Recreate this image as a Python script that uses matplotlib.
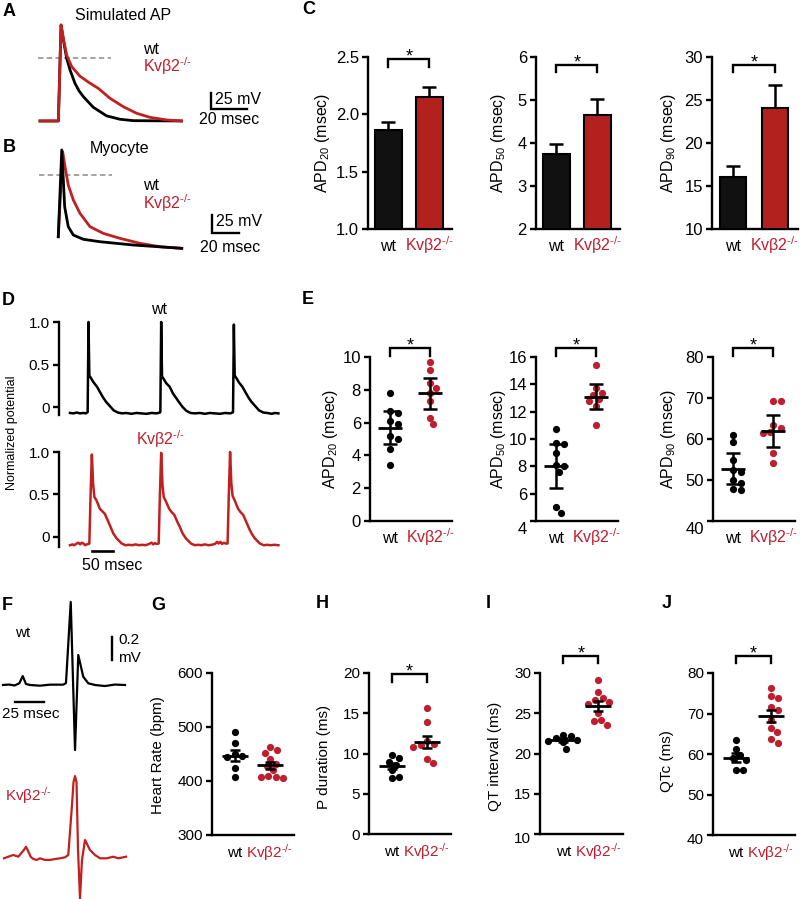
import numpy as np
import matplotlib
matplotlib.use('Agg')
import matplotlib.pyplot as plt

plt.rcParams['font.family'] = ['Liberation Sans', 'DejaVu Sans']
plt.rcParams['mathtext.fontset'] = 'custom'
plt.rcParams['mathtext.rm'] = 'Liberation Sans'
plt.rcParams['mathtext.it'] = 'Liberation Sans:italic'
plt.rcParams['mathtext.bf'] = 'Liberation Sans:bold'

# ---------------- data ----------------
KV = 'Kvβ2$^{\\text{-/-}}$'
groups = ['wt', KV]

# A: simulated AP (ms, mV)
A_wt_t = [0, 10.2, 11.7, 13.0, 14.8, 16.7, 19.4, 21.7, 24.1, 29.6, 37.0, 44.4, 51.9, 78.7]
A_wt_v = [-80, -80, 70, 46.6, 18, -0.3, -21, -33, -42, -58.6, -72, -77.3, -79.5, -80]
A_kv_t = [0, 10.2, 11.7, 13.0, 14.8, 17.6, 22.2, 27.8, 32.4, 38.9, 46.3, 53.7, 61.1, 70.4, 78.7]
A_kv_v = [-80, -80, 70, 49, 23, 5, -10, -21, -29, -44.6, -57.7, -68, -74.3, -78.4, -80]
A_dash_v = 18.4

# B: myocyte AP (ms, mV)
B_wt_t = [0.2, 2.8, 4.0, 5.0, 7.7, 11.5, 19, 31.5, 56.5, 92.8]
B_wt_v = [-64.6, 53.7, 12.8, -23.7, -50.9, -62.3, -68.1, -71.4, -75.9, -80.4]
B_kv_t = [0.2, 3.5, 5.25, 7.7, 11.5, 16.5, 24, 34, 46.5, 61.5, 76.5, 92.8]
B_kv_v = [-64.6, 51.4, 30.9, 5.9, -14.5, -32.7, -50.9, -60, -66.8, -73.6, -78.2, -80.4]
B_dash_v = 19.6

# C: APD bars
C1_mean = [1.86, 2.15]; C1_err = [0.075, 0.085]
C2_mean = [3.75, 4.66]; C2_err = [0.23, 0.36]
C3_mean = [16.0, 24.05]; C3_err = [1.35, 2.7]

# D: optical traces (ms, normalized)
D_wt_t = [0, 8, 16, 24, 32, 38, 42, 44, 46, 50, 56, 64, 72, 79, 86, 95, 104, 114, 124, 134, 146, 158,
          170, 182, 194, 206, 214, 215, 217, 219, 223, 229, 237, 245, 252, 259, 268, 277, 287, 297,
          309, 321, 333, 345, 357, 369, 381, 387, 388, 390, 392, 396, 402, 410, 418, 425, 432, 441,
          450, 460, 470, 480, 488, 496]
D_wt_v = [-0.07, -0.075, -0.065, -0.075, -0.07, -0.075, -0.06, 1.0, 0.37, 0.34, 0.29, 0.24, 0.17, 0.11,
          0.06, 0.01, -0.04, -0.065, -0.075, -0.07, -0.08, -0.07, -0.075, -0.08, -0.07, -0.075, -0.065,
          -0.06, 1.0, 0.36, 0.33, 0.28, 0.24, 0.16, 0.11, 0.06, 0.0, -0.045, -0.07, -0.075, -0.07,
          -0.08, -0.07, -0.075, -0.08, -0.07, -0.075, -0.065, -0.06, 0.97, 0.37, 0.34, 0.29, 0.24,
          0.17, 0.11, 0.06, 0.01, -0.04, -0.065, -0.07, -0.08, -0.07, -0.075]
D_kv_t = [0, 6, 10, 16, 20, 24, 28, 32, 36, 40, 44, 46, 49, 52, 55, 58, 63, 71, 77, 83, 91, 97, 103,
          111, 123, 132, 140, 148, 156, 164, 172, 180, 188, 194, 198, 202, 206, 211, 214, 217, 220,
          223, 228, 236, 242, 248, 256, 262, 268, 276, 288, 297, 305, 313, 321, 329, 337, 345, 350,
          354, 358, 362, 366, 370, 375, 378, 381, 384, 387, 392, 400, 406, 412, 420, 426, 432, 440,
          452, 461, 470, 478, 486, 496]
D_kv_v = [-0.1, -0.09, -0.1, -0.08, -0.07, -0.09, -0.07, -0.08, -0.1, -0.09, -0.085, -0.08, 0.5, 0.97,
          0.62, 0.47, 0.43, 0.33, 0.30, 0.27, 0.18, 0.11, 0.04, -0.02, -0.08, -0.1, -0.095, -0.1,
          -0.09, -0.1, -0.095, -0.1, -0.085, -0.07, -0.09, -0.075, -0.085, -0.08, 0.5, 0.99, 0.62,
          0.47, 0.42, 0.33, 0.29, 0.26, 0.17, 0.11, 0.04, -0.02, -0.08, -0.1, -0.095, -0.1, -0.09,
          -0.1, -0.095, -0.085, -0.06, -0.08, -0.06, -0.085, -0.07, -0.08, -0.08, 0.5, 1.0, 0.63,
          0.48, 0.43, 0.33, 0.29, 0.26, 0.17, 0.10, 0.04, -0.02, -0.08, -0.1, -0.095, -0.1, -0.095, -0.1]

# E: APD scatter
E1_wt = [7.8, 6.7, 6.6, 6.1, 5.9, 5.2, 5.0, 4.4, 3.4]
E1_kv = [9.7, 9.2, 8.4, 8.1, 7.8, 7.3, 6.3, 5.9]
E1_mean = [5.7, 7.8]; E1_err = [1.0, 0.95]
E2_wt = [10.7, 9.7, 9.6, 9.0, 8.1, 8.0, 7.6, 5.0, 4.6]
E2_kv = [15.4, 13.7, 13.4, 13.2, 12.9, 12.8, 12.4, 11.0]
E2_mean = [8.0, 13.1]; E2_err = [1.6, 0.92]
E3_wt = [61.0, 59.2, 55.0, 52.5, 52.0, 50.0, 49.3, 47.8, 47.5]
E3_kv = [69.3, 69.3, 63.4, 62.8, 61.8, 61.5, 56.5, 54.2]
E3_mean = [52.8, 61.9]; E3_err = [3.8, 3.9]

# F: ECG traces (ms, mV)
F_wt_t = [0, 5, 10, 14.1, 17.0, 19.8, 23.3, 31.9, 40.5, 52.0, 54.3, 58.4, 62.1, 64.9, 69.2, 73.5, 79.3,
          87.9, 96.5, 105.2]
F_wt_v = [0, 0.004, -0.004, 0.015, 0.078, 0.009, 0, -0.006, 0.003, 0.003, 0.017, 0.722, -0.566, 0.261,
          0.072, 0.015, 0, -0.009, 0.004, 0]
F_kv_t = [0, 3.7, 8.0, 12.3, 15.2, 17.2, 19.0, 21.0, 23.0, 25.3, 28.2, 31.0, 35.3, 39.7, 44.0, 48.3,
          52.6, 55.4, 58.6, 59.9, 61.2, 62.5, 63.8, 65.5, 67.2, 69.8, 74.1, 78.4, 82.8, 88.5, 94.2,
          98.5, 105.2]
F_kv_v = [-0.003, 0.011, 0.026, 0.011, 0.046, 0.07, 0.098, 0.055, 0.011, -0.009, -0.017, -0.003,
          -0.017, -0.017, -0.009, -0.003, 0.006, 0.026, 0.46, 0.66, 0.713, 0.66, 0.07, -0.351, -0.02,
          0.157, 0.07, 0.026, -0.003, -0.003, 0.011, -0.003, 0.011]

# G-J: ECG parameters
G_wt = [490, 470, 450, 447, 445, 425, 408]
G_kv = [463, 458, 452, 440, 432, 428, 420, 410, 408, 407, 405]
G_mean = [447, 429]; G_err = [10, 6]
H_wt = [9.8, 9.5, 9.0, 8.6, 7.9, 7.0, 7.1]
H_kv = [15.6, 13.9, 11.5, 11.2, 11.0, 10.8, 9.3, 8.8]
H_mean = [8.45, 11.4]; H_err = [0.41, 0.72]
I_wt = [22.3, 22.2, 21.9, 21.7, 21.6, 21.4, 20.6]
I_kv = [29.1, 27.6, 26.9, 26.6, 26.4, 26.2, 25.0, 24.2, 24.0, 23.6]
I_mean = [21.7, 25.95]; I_err = [0.22, 0.62]
J_wt = [63.4, 61.2, 59.8, 59.0, 58.5, 56.0, 56.0]
J_kv = [76.2, 74.4, 73.8, 71.5, 70.8, 68.5, 66.5, 65.5, 63.6, 62.8]
J_mean = [59.1, 69.4]; J_err = [1.05, 1.5]

# ---------------- style ----------------
W, H = 800, 899
RED = '#BE1E2D'
BAR_RED = '#B3211E'
TRACE_RED = '#C0201E'
BLACK = '#111111'

fig = plt.figure(figsize=(W / 100, H / 100), dpi=100)


def add_px_axes(x0, y0, x1, y1):
    return fig.add_axes([x0 / W, 1 - y1 / H, (x1 - x0) / W, (y1 - y0) / H])


def ftext(x, y, s, **kw):
    return fig.text(x / W, 1 - y / H, s, **kw)


def py2d(y_px, box, ylim):
    return ylim[0] + (box[3] - y_px) / (box[3] - box[1]) * (ylim[1] - ylim[0])


def style_axes(ax, fs):
    for s in ['top', 'right']:
        ax.spines[s].set_visible(False)
    for s in ['left', 'bottom']:
        ax.spines[s].set_linewidth(1.7)
    ax.tick_params(axis='y', direction='out', length=4.5, width=1.7, pad=2, labelsize=fs)
    ax.tick_params(axis='x', length=0, pad=16, labelsize=fs)


def set_group_ticks(ax):
    ax.set_xticks([0, 1])
    ax.set_xticklabels(groups)
    for lbl in ax.get_xticklabels():
        lbl.set_verticalalignment('baseline')
    ax.get_xticklabels()[1].set_color(RED)


def add_bracket(ax, box, ylim, y_top_px, y_leg_px, star_px, star_fs=13):
    yt = py2d(y_top_px, box, ylim)
    yl = py2d(y_leg_px, box, ylim)
    ax.plot([0, 0, 1, 1], [yl, yt, yt, yl], color='black', lw=1.7, clip_on=False,
            solid_joinstyle='miter', zorder=5)
    em = star_fs * 100 / 72
    ax.text(0.5, py2d(star_px + 0.58 * em, box, ylim), '*', ha='center', va='baseline',
            fontsize=star_fs, clip_on=False)


def shifted_bottom_label(ax, ylim, text, dy_px, fs):
    labels = [t.get_text() for t in ax.get_yticklabels()]
    labels[0] = ''
    ax.set_yticklabels(labels)
    ax.annotate(text, xy=(0, ylim[0]), xycoords=('axes fraction', 'data'),
                xytext=(-6.5, -dy_px * 0.72), textcoords='offset points',
                ha='right', va='center', fontsize=fs)


def swarm_offsets(vals, px_per_y, px_per_x, d=7.0, step=1.5):
    placed = []
    offs = []
    for v in vals:
        y = v * px_per_y
        chosen = 0.0
        for k in range(0, 80):
            found = None
            for c in ([0.0] if k == 0 else [k * step, -k * step]):
                if all((c - qx) ** 2 + (y - qy) ** 2 >= d * d for qx, qy in placed):
                    found = c
                    break
            if found is not None:
                chosen = found
                break
        placed.append((chosen, y))
        offs.append(chosen / px_per_x)
    return np.array(offs)


# ---------------- panel letters ----------------
for lab, x, y in [('A', 9, 12), ('B', 9, 147), ('C', 309, 9), ('D', 8, 301), ('E', 308, 300),
                  ('F', 7, 605), ('G', 158, 605), ('H', 322, 604), ('I', 488, 604), ('J', 667, 604)]:
    ftext(x, y, lab, fontsize=13, fontweight='bold', ha='center', va='center')

# ---------------- A ----------------
axA = add_px_axes(30, 20, 270, 130)
axA.set_xlim(-5.56, 127.8)
axA.set_ylim(-94.1, 77.8)
axA.axis('off')
axA.plot([-1.1, 39.4], [A_dash_v, A_dash_v], color='#8a8a8a', lw=1.1, ls=(0, (3.5, 2.2)))
axA.plot(A_wt_t, A_wt_v, color='black', lw=2.0, solid_joinstyle='round')
axA.plot(A_kv_t, A_kv_v, color=TRACE_RED, lw=2.0, solid_joinstyle='round')
axA.plot([95, 95, 115], [-36.25, -61.25, -61.25], color='black', lw=1.7, solid_joinstyle='miter')
ftext(123, 15, 'Simulated AP', fontsize=11.5, ha='center', va='center')
ftext(143, 49, 'wt', fontsize=11.5, ha='left', va='center')
ftext(143, 66, KV, fontsize=11.5, ha='left', va='center', color=RED)
ftext(215, 100, '25 mV', fontsize=11.5, ha='left', va='center')
ftext(229, 120, '20 msec', fontsize=11.5, ha='center', va='center')

# ---------------- B ----------------
axB = add_px_axes(30, 140, 270, 255)
axB.set_xlim(-21, 159)
axB.set_ylim(-89.5, 67.3)
axB.axis('off')
axB.plot([-14.25, 40.5], [B_dash_v, B_dash_v], color='#8a8a8a', lw=1.1, ls=(0, (3.5, 2.2)))
axB.plot(B_kv_t, B_kv_v, color=TRACE_RED, lw=2.0, solid_joinstyle='round')
axB.plot(B_wt_t, B_wt_v, color='black', lw=2.0, solid_joinstyle='round')
axB.plot([115.5, 115.5, 135.5], [-34.5, -59.5, -59.5], color='black', lw=1.7, solid_joinstyle='miter')
ftext(120, 148, 'Myocyte', fontsize=11.5, ha='center', va='center')
ftext(143, 186, 'wt', fontsize=11.5, ha='left', va='center')
ftext(143, 203, KV, fontsize=11.5, ha='left', va='center', color=RED)
ftext(216, 221, '25 mV', fontsize=11.5, ha='left', va='center')
ftext(230, 247, '20 msec', fontsize=11.5, ha='center', va='center')

# ---------------- C ----------------
def bar_panel(box, ylim, yticks, yticklabels, means, errs, ylabel, ylab_x, br):
    ax = add_px_axes(*box)
    ax.set_xlim(-0.5, 1.55)
    ax.set_ylim(*ylim)
    style_axes(ax, 12)
    x = np.arange(2)
    ax.bar(x, np.array(means) - ylim[0], bottom=ylim[0], width=0.64,
           color=[BLACK, BAR_RED], edgecolor='black', linewidth=1.5, zorder=3)
    ax.errorbar(x, means, yerr=[[0, 0], errs], fmt='none', ecolor='black', elinewidth=1.8,
                capsize=4.8, capthick=1.8, zorder=2)
    ax.set_yticks(yticks)
    ax.set_yticklabels(yticklabels)
    set_group_ticks(ax)
    ax.tick_params(axis='x', labelsize=11.5)
    add_bracket(ax, box, ylim, *br)
    ftext(ylab_x, 143, ylabel, fontsize=11.5, rotation=90, ha='center', va='center')
    return ax


bar_panel((368, 57, 452, 229), (1.0, 2.5), [1.0, 1.5, 2.0, 2.5], ['1.0', '1.5', '2.0', '2.5'],
          C1_mean, C1_err, 'APD$_{\\mathregular{20}}$ (msec)', 322, (59, 67, 51))
bar_panel((536, 57, 620, 229), (2, 6), [2, 3, 4, 5, 6], ['2', '3', '4', '5', '6'],
          C2_mean, C2_err, 'APD$_{\\mathregular{50}}$ (msec)', 499, (65, 72, 57))
bar_panel((712, 57, 798, 229), (10, 30), [10, 15, 20, 25, 30], ['10', '15', '20', '25', '30'],
          C3_mean, C3_err, 'APD$_{\\mathregular{90}}$ (msec)', 668, (65, 72, 57))

# ---------------- D ----------------
def trace_axis(box, ylim):
    ax = add_px_axes(*box)
    ax.set_xlim(-26.2, 511.7)
    ax.set_ylim(*ylim)
    for s in ['top', 'right', 'bottom']:
        ax.spines[s].set_visible(False)
    ax.spines['left'].set_linewidth(1.7)
    ax.set_xticks([])
    ax.set_yticks([0, 0.5, 1.0])
    ax.set_yticklabels(['0', '0.5', '1.0'])
    ax.tick_params(axis='y', direction='out', length=4.5, width=1.7, pad=2, labelsize=11)
    return ax


axD1 = trace_axis((59, 322, 285, 415), (-0.094, 1.0))
axD1.plot(D_wt_t, D_wt_v, color='black', lw=1.8, clip_on=False, solid_joinstyle='round')
axD2 = trace_axis((59, 452, 285, 547), (-0.121, 1.0))
axD2.plot(D_kv_t, D_kv_v, color=TRACE_RED, lw=1.8, clip_on=False, solid_joinstyle='round')
axD2.plot([52.4, 102.4], [-0.168, -0.168], color='black', lw=1.9, clip_on=False)
ftext(159, 309, 'wt', fontsize=11.5, ha='center', va='center')
ftext(160, 439, KV, fontsize=11.5, ha='center', va='center', color=RED)
ftext(112, 565, '50 msec', fontsize=11.5, ha='center', va='center')
ftext(12, 433, 'Normalized potential', fontsize=9, rotation=90, ha='center', va='center')

# ---------------- dot panels ----------------
def dot_panel(box, xlim, ylim, yticks, yticklabels, wt, kv, means, errs, ylabel, ylab_xy,
              fs, lab_fs, mean_hw, cap, br=None, bottom_shift=None):
    ax = add_px_axes(*box)
    ax.set_xlim(*xlim)
    ax.set_ylim(*ylim)
    style_axes(ax, fs)
    ppy = (box[3] - box[1]) / (ylim[1] - ylim[0])
    ppx = (box[2] - box[0]) / (xlim[1] - xlim[0])
    for i, (vals, col) in enumerate([(wt, 'black'), (kv, RED)]):
        offs = swarm_offsets(vals, ppy, ppx)
        ax.plot(i + offs, vals, 'o', color=col, ms=5.2, mec='none', zorder=3, clip_on=False)
    for i in range(2):
        ax.plot([i - mean_hw, i + mean_hw], [means[i], means[i]], color='black', lw=2.0,
                solid_capstyle='butt', zorder=4)
        ax.errorbar(i, means[i], yerr=errs[i], fmt='none', ecolor='black', elinewidth=1.8,
                    capsize=cap, capthick=1.8, zorder=4)
    ax.set_yticks(yticks)
    ax.set_yticklabels(yticklabels)
    ax.tick_params(axis='y', labelsize=fs)
    set_group_ticks(ax)
    ax.tick_params(axis='x', labelsize=lab_fs)
    if bottom_shift is not None:
        shifted_bottom_label(ax, ylim, yticklabels[0], bottom_shift, fs)
    if br is not None:
        add_bracket(ax, box, ylim, *br)
    ftext(ylab_xy[0], ylab_xy[1], ylabel, fontsize=lab_fs, rotation=90, ha='center', va='center')
    return ax


EX = (-0.5, 1.55)
dot_panel((370, 357, 452, 521), EX, (0, 10), [0, 2, 4, 6, 8, 10], ['0', '2', '4', '6', '8', '10'],
          E1_wt, E1_kv, E1_mean, E1_err, 'APD$_{\\mathregular{20}}$ (msec)', (331, 439),
          12, 11.5, 0.31, 5.3, br=(348, 356, 340))
dot_panel((536, 357, 618, 521), EX, (4, 16), [4, 6, 8, 10, 12, 14, 16],
          ['4', '6', '8', '10', '12', '14', '16'],
          E2_wt, E2_kv, E2_mean, E2_err, 'APD$_{\\mathregular{50}}$ (msec)', (498, 439),
          12, 11.5, 0.31, 5.3, br=(348, 356, 340), bottom_shift=9)
dot_panel((713, 357, 795, 521), EX, (40, 80), [40, 50, 60, 70, 80], ['40', '50', '60', '70', '80'],
          E3_wt, E3_kv, E3_mean, E3_err, 'APD$_{\\mathregular{90}}$ (msec)', (669, 439),
          12, 11.5, 0.31, 5.3, br=(348, 356, 340), bottom_shift=9)

GX = (-0.66, 1.7)
dot_panel((212, 673, 294, 835), GX, (300, 600), [300, 400, 500, 600], ['300', '400', '500', '600'],
          G_wt, G_kv, G_mean, G_err, 'Heart Rate (bpm)', (158, 755), 11, 11, 0.37, 3.8)
dot_panel((369, 673, 451, 834), GX, (0, 20), [0, 5, 10, 15, 20], ['0', '5', '10', '15', '20'],
          H_wt, H_kv, H_mean, H_err, 'P duration (ms)', (324, 757), 11, 11, 0.37, 3.8,
          br=(674, 682, 666))
dot_panel((540, 673, 623, 834), GX, (10, 30), [10, 15, 20, 25, 30], ['10', '15', '20', '25', '30'],
          I_wt, I_kv, I_mean, I_err, 'QT interval (ms)', (495, 756), 11, 11, 0.37, 3.8,
          br=(656, 663, 648), bottom_shift=5)
dot_panel((713, 673, 795, 835), GX, (40, 80), [40, 50, 60, 70, 80], ['40', '50', '60', '70', '80'],
          J_wt, J_kv, J_mean, J_err, 'QTc (ms)', (667, 761), 11, 11, 0.37, 3.8,
          br=(656, 663, 648), bottom_shift=5)

# ---------------- F ----------------
axF1 = add_px_axes(0, 595, 130, 760)
axF1.set_xlim(-2.59, 109.5)
axF1.set_ylim(-0.6525, 0.783)
axF1.axis('off')
axF1.plot(F_wt_t, F_wt_v, color='black', lw=1.6, solid_joinstyle='round')
axF1.plot([94, 94], [0.2175, 0.4175], color='black', lw=1.7)
axF1.plot([10.3, 35.3], [-0.148, -0.148], color='black', lw=1.7)
axF2 = add_px_axes(0, 765, 130, 899)
axF2.set_xlim(-3.45, 108.6)
axF2.set_ylim(-0.357, 0.809)
axF2.axis('off')
axF2.plot(F_kv_t, F_kv_v, color=TRACE_RED, lw=1.6, solid_joinstyle='round', clip_on=False)
ftext(23, 633, 'wt', fontsize=11, ha='center', va='center')
ftext(118, 640, '0.2', fontsize=11, ha='left', va='center')
ftext(118, 658, 'mV', fontsize=11, ha='left', va='center')
ftext(2, 714, '25 msec', fontsize=11, ha='left', va='center')
ftext(5, 796, KV, fontsize=11, ha='left', va='center', color=RED)

fig.savefig('out.png', dpi=100)
